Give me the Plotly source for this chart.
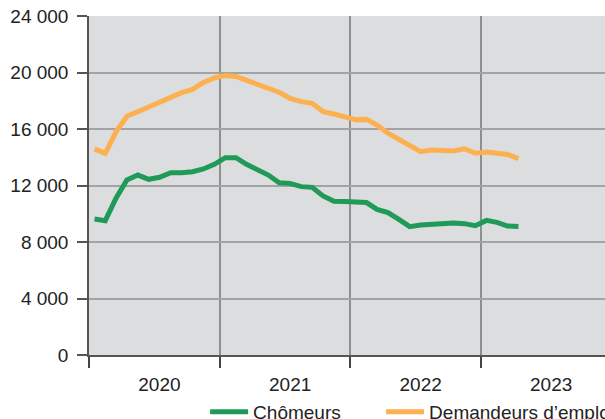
import plotly.graph_objects as go

months = [f"{y}-{m:02d}" for y in (2020, 2021, 2022, 2023) for m in range(1, 13)][:40]

chomeurs = [9630, 9510, 11100, 12390, 12740, 12440, 12580, 12910, 12910, 12980,
            13170, 13500, 13970, 13970, 13500, 13150, 12740, 12200, 12150, 11920,
            11870, 11260, 10880, 10860, 10850, 10790, 10310, 10080, 9600, 9085,
            9200, 9270, 9300, 9340, 9300, 9150, 9530, 9390, 9130, 9090]

demandeurs = [14580, 14280, 15800, 16900, 17220, 17560, 17820, 18240, 18570, 18800,
              19300, 19620, 19780, 19720, 19470, 19170, 18880, 18600, 18170, 17940,
              17820, 17220, 17060, 16870, 16650, 16680, 16280, 15700, 15290, 14870,
              14390, 14510, 14510, 14440, 14600, 14280, 14370, 14320, 14200, 13900]

series_names = ["Chômeurs", "Demandeurs d’emploi"]
colors = ["#1f9a57", "#fdb04f"]
legend_widths = [123, 260]

fig = go.Figure()
for name, vals, col, lw in zip(series_names, [chomeurs, demandeurs], colors, legend_widths):
    fig.add_trace(go.Scatter(
        x=months, y=vals, name=name, mode="lines",
        xperiod="M1", xperiodalignment="middle",
        line=dict(color=col, width=5, shape="linear"),
        legendwidth=lw,
    ))

font_family = "Liberation Sans, Arial, sans-serif"
fig.update_layout(
    width=605, height=419,
    margin=dict(l=89, r=0, t=16, b=64, autoexpand=False),
    paper_bgcolor="white",
    plot_bgcolor="#dcdddf",
    separators=", ",
    font=dict(family=font_family, size=19, color="#222222"),
    showlegend=True,
    legend=dict(orientation="h", x=0.225, xanchor="left", y=-0.112, yanchor="top",
                font=dict(size=19, color="#222222"), itemwidth=38,
                bgcolor="rgba(0,0,0,0)", traceorder="normal"),
)
fig.update_xaxes(
    type="date",
    range=["2020-01-01", "2023-12-14"],
    dtick="M12", tick0="2020-01-01", tickformat="%Y", ticklabelmode="period",
    ticklabelshift=5,
    ticks="outside", ticklen=11, tickwidth=1.5, tickcolor="#444444",
    showgrid=True, gridcolor="#8f8f8f", gridwidth=1.5,
    showline=True, linecolor="#555555", linewidth=1.5,
    tickfont=dict(size=19, color="#222222"),
    zeroline=False,
)
fig.update_yaxes(
    range=[0, 24000], dtick=4000, tick0=0, tickformat=",.0f",
    ticks="outside", ticklen=10, tickwidth=1.5, tickcolor="#555555",
    showgrid=True, gridcolor="#a3a3a3", gridwidth=1.5,
    showline=True, linecolor="#555555", linewidth=1.5,
    tickfont=dict(size=19, color="#222222"),
    ticklabelstandoff=5,
    zeroline=False,
)

fig.write_html(
    "out.html",
    config={"displayModeBar": False},
    post_script="document.body.style.margin='0';document.body.style.overflow='hidden';",
)
